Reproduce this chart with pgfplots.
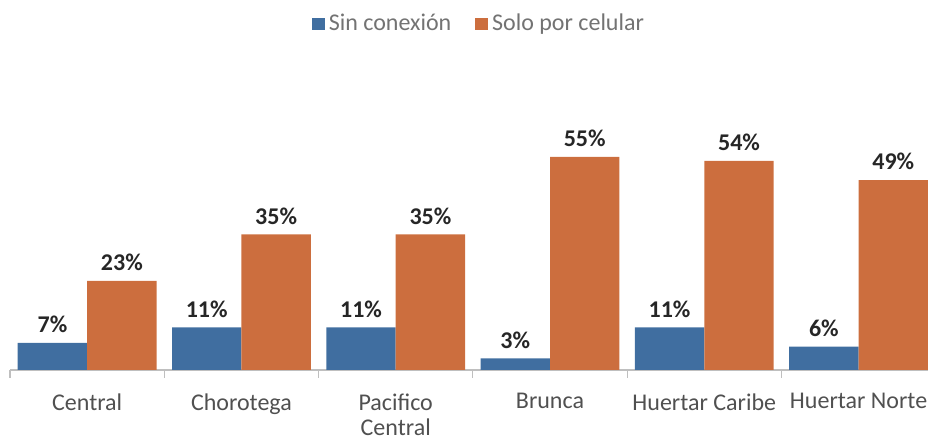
\documentclass[border=0pt]{standalone}
\usepackage{fontspec}
\setmainfont{Carlito}
\usepackage{pgfplots}
\pgfplotsset{compat=1.18}
\definecolor{cblue}{RGB}{64,110,160}
\definecolor{corange}{RGB}{204,110,62}
\definecolor{labgray}{RGB}{80,80,80}
\pgfplotsset{sqlegend/.style={legend image code/.code={\fill[##1] (0pt,-3.2pt) rectangle (6.4pt,3.2pt);}}}
\begin{document}
\begin{tikzpicture}[x=1pt,y=1pt]
\path[use as bounding box] (0,0) rectangle (464,219.5);
\begin{axis}[at={(5pt,34.5pt)}, anchor=south west, scale only axis,
  width=459pt, height=155pt,
  xmin=-0.5, xmax=5.45, ymin=0, ymax=80,
  ybar=0pt, bar width=0.45,
  axis x line*=bottom, axis y line=none,
  x axis line style={draw=gray!50, line width=0.6pt, -},
  xtick={0,1,2,3,4,5},
  xticklabels={Central,Chorotega,{Pacifico\\Central},Brunca,Huertar Caribe,Huertar Norte},
  xticklabel style={align=center, font=\fontsize{12}{12.5}\selectfont, text=labgray, yshift=-4pt},
  major x tick style={draw=none},
  minor xtick={-0.5,0.5,1.5,2.5,3.5,4.5},
  minor x tick style={draw=gray!50, line width=0.6pt},
  minor tick length=4pt, tick align=outside,
  /pgf/number format/assume math mode=true,
  nodes near coords={\pgfmathprintnumber{\pgfplotspointmeta}\%},
  every node near coord/.append style={font=\fontsize{12}{12}\bfseries, text=black!85, anchor=south, yshift=1.5pt},
  legend columns=2,
  legend style={draw=none, at={(0.512,1)}, anchor=center, yshift=18pt,
    font=\fontsize{12}{12}\selectfont, text=gray!90!black,
    /tikz/every even column/.append style={column sep=10pt}},
  sqlegend,
]
\addplot[fill=cblue, draw=none]
  coordinates {(0,7) (1,11) (2,11) (3,3) (4,11) (5,6)};
\addlegendentry{Sin conexión}
\addplot[fill=corange, draw=none]
  coordinates {(0,23) (1,35) (2,35) (3,55) (4,54) (5,49)};
\addlegendentry{Solo por celular}
\end{axis}
\end{tikzpicture}
\end{document}
